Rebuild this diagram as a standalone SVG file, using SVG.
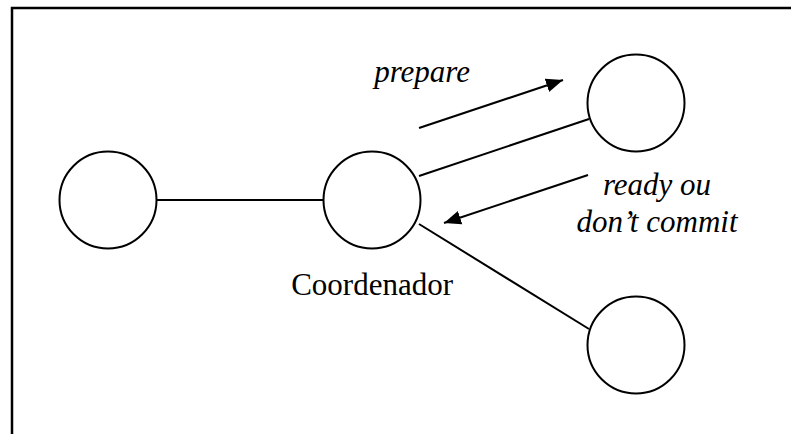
<svg xmlns="http://www.w3.org/2000/svg" width="791" height="434" viewBox="0 0 791 434">
  <style>
    .frame { fill: none; stroke: #000; stroke-width: 2.5; }
    .node { fill: #fff; stroke: #000; stroke-width: 2; }
    .link { stroke: #000; stroke-width: 2; fill: none; }
    .msg { stroke: #000; stroke-width: 2; fill: none; marker-end: url(#head); }
    .lbl { font-family: "Liberation Serif", "Times New Roman", serif; font-size: 31px; fill: #000; }
    .it { font-style: italic; }
  </style>
  <defs>
    <marker id="head" markerUnits="userSpaceOnUse" markerWidth="20" markerHeight="16" refX="17" refY="7" orient="auto">
      <path d="M0,0 L17,7 L0,14 Z" fill="#000"/>
    </marker>
  </defs>
  <rect width="791" height="434" fill="#fff"/>
  <rect class="frame" x="12" y="8" width="800" height="440"/>

  <g id="connectors">
    <line class="link" x1="157" y1="200" x2="323" y2="200"/>
    <line class="link" x1="419" y1="176" x2="589" y2="119"/>
    <line class="link" x1="419" y1="224" x2="589" y2="329"/>
    <line class="msg" x1="419" y1="128" x2="563" y2="80"/>
    <line class="msg" x1="588" y1="175" x2="444" y2="223"/>
  </g>

  <g id="node-left"><circle class="node" cx="108" cy="200" r="48.5"/></g>
  <g id="node-coordenador">
    <circle class="node" cx="372" cy="200" r="48.5"/>
    <text class="lbl" x="453" y="295" text-anchor="end">Coordenador</text>
  </g>
  <g id="node-top"><circle class="node" cx="636" cy="103" r="48.5"/></g>
  <g id="node-bottom"><circle class="node" cx="636" cy="345" r="48.5"/></g>

  <g id="labels">
    <text class="lbl it" x="470" y="82" text-anchor="end">prepare</text>
    <text class="lbl it" x="657" y="195" text-anchor="middle">ready ou</text>
    <text class="lbl it" x="657" y="232" text-anchor="middle">don’t commit</text>
  </g>
</svg>
